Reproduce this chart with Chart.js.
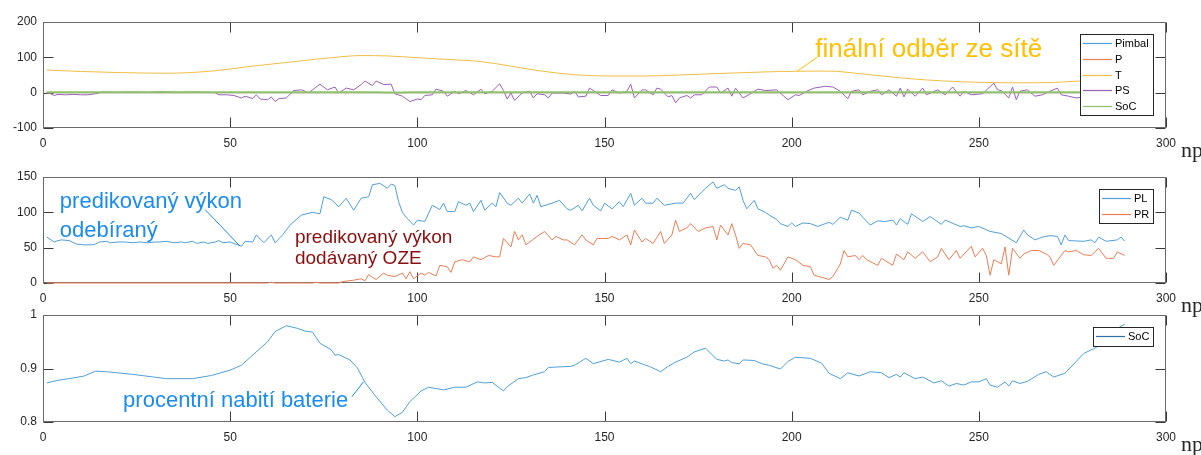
<!DOCTYPE html>
<html>
<head>
<meta charset="utf-8">
<script src="https://cdn.jsdelivr.net/npm/chart.js@4.4.1/dist/chart.umd.min.js"></script>
<style>
  body { margin: 0; background: #fff; width: 1201px; height: 455px; overflow: hidden; position: relative; }
  .panel { position: absolute; left: 0; width: 1201px; height: 170px; }
</style>
</head>
<body>
<div class="panel" style="top:0"><canvas id="grid"></canvas></div>
<div class="panel" style="top:155px"><canvas id="power"></canvas></div>
<div class="panel" style="top:293px"><canvas id="soc"></canvas></div>
<script>
// ---- axis ticks ----
const xTicks = [0, 50, 100, 150, 200, 250, 300];
const gridTicks = [-100, 0, 100, 200];
const powerTicks = [0, 50, 100, 150];
const socTicks = [0.8, 0.9, 1];

// ---- series, [step, value] ----
const pimbalData = [[1, 0], [289, 0]];
const pData = [[1, 0], [289, 0]];
const tData = [[1,64],[10,60],[20,57],[33,55],[46,62],[55,74],[62,82],[69,90],[77,99],[85,105],[92,104],[100,99],[108,94],[117,88],[125,75],[130,66],[137,56],[143,50],[152,47],[160,47],[170,50],[180,54],[188,57],[197,60],[205,61],[210,61],[218,54],[227,44],[236,36],[245,31],[258,28],[265,28],[272,30],[277,33],[283,35],[289,37]];
const psData = [[1,0],[2,-3],[3,-8],[4,-5],[6,-6],[8,-5],[10,-6],[12,-6],[14,-3],[16,2],[20,1],[24,2],[28,1],[32,3],[36,1],[40,2],[44,1],[46,0],[47,-6],[49,-6],[51,-8],[53,-15],[54,-10],[56,-17],[57,-6],[58,-18],[60,-20],[61,-12],[62,-25],[63,-17],[65,-15],[67,6],[69,8],[71,0],[74,24],[76,8],[78,16],[79,-1],[81,13],[83,8],[85,23],[86,33],[88,20],[89,33],[91,23],[93,24],[94,-3],[96,-10],[98,-25],[100,-18],[101,-20],[102,-8],[104,-6],[105,10],[107,4],[108,-10],[110,4],[111,-3],[113,6],[115,-6],[117,10],[118,-3],[120,4],[122,25],[123,6],[124,-18],[125,-1],[126,-22],[128,-1],[130,4],[131,-15],[132,-3],[134,-6],[135,-15],[136,-1],[139,-1],[141,-4],[142,4],[143,-12],[145,-10],[146,13],[149,-8],[151,-8],[152,8],[154,-1],[156,4],[157,24],[158,-15],[160,8],[161,8],[163,-6],[164,13],[165,10],[167,-12],[168,-8],[169,-29],[170,-15],[172,-8],[173,-15],[174,-6],[176,-6],[178,16],[180,16],[181,-1],[183,13],[184,-10],[185,13],[186,-1],[187,-15],[189,-3],[191,10],[193,6],[196,8],[199,-20],[201,-6],[202,-8],[204,4],[206,13],[209,18],[211,16],[213,4],[215,-17],[216,4],[218,8],[219,-6],[221,4],[223,8],[224,-6],[226,8],[228,-10],[229,13],[230,-12],[231,10],[233,-10],[235,13],[236,-6],[239,8],[241,-6],[243,16],[245,-10],[246,4],[248,-6],[251,-3],[254,27],[255,8],[256,6],[258,-15],[259,16],[260,-20],[261,4],[263,8],[265,-10],[267,-6],[269,4],[271,13],[272,-6],[274,-10],[276,-15],[278,-12],[280,-4],[282,3],[284,-8],[285,2],[287,-10],[289,-5]];
const plData = [[1,65],[3,58],[4,60],[5,61],[7,60],[9,55],[11,54],[13,54],[14,55],[15,58],[17,59],[18,57],[20,58],[22,58],[24,57],[26,58],[28,57],[30,58],[31,58],[33,59],[35,57],[37,58],[38,57],[40,59],[41,56],[43,58],[44,56],[46,58],[47,60],[48,57],[50,58],[51,56],[53,52],[54,59],[56,58],[57,68],[59,57],[61,68],[62,57],[64,68],[66,82],[69,96],[72,100],[74,98],[75,122],[77,118],[79,108],[81,120],[83,103],[85,120],[87,122],[88,139],[90,141],[92,134],[93,140],[94,138],[95,115],[96,100],[97,93],[99,82],[100,89],[102,87],[104,110],[106,104],[107,113],[108,101],[110,101],[111,115],[113,110],[114,113],[115,101],[117,117],[118,103],[120,113],[121,108],[122,128],[124,113],[125,110],[127,120],[128,113],[130,126],[131,113],[132,124],[133,108],[136,113],[138,117],[140,105],[141,103],[143,110],[144,102],[146,120],[147,110],[149,102],[150,113],[152,105],[154,115],[155,108],[157,127],[158,110],[160,120],[161,113],[163,113],[164,120],[166,110],[169,113],[171,113],[173,127],[174,118],[176,129],[177,134],[179,143],[180,134],[182,139],[183,134],[185,131],[186,136],[187,117],[188,105],[190,117],[191,105],[193,100],[194,96],[196,90],[197,84],[199,80],[200,85],[201,80],[203,85],[205,84],[207,80],[210,86],[211,83],[213,93],[215,89],[216,103],[218,99],[219,93],[221,82],[223,88],[225,87],[227,89],[228,82],[229,91],[231,83],[232,98],[235,87],[237,94],[240,83],[241,89],[245,80],[246,81],[248,78],[250,80],[253,73],[256,70],[260,57],[262,75],[263,68],[265,61],[267,65],[269,67],[271,66],[272,54],[273,68],[274,60],[278,59],[280,61],[281,57],[282,65],[284,59],[287,61],[288,65],[289,59]];
const prData = [[1,0],[60,0],[61,1],[62,0],[72,0],[73,1],[74,0],[79,0],[80,2],[83,4],[85,6],[86,3],[87,12],[88,8],[89,5],[91,14],[92,11],[94,9],[96,14],[97,6],[98,16],[99,6],[101,14],[102,11],[103,15],[105,10],[106,25],[108,23],[109,15],[110,30],[112,33],[114,30],[115,37],[117,33],[119,39],[121,37],[122,37],[123,63],[125,51],[126,73],[127,61],[128,68],[129,54],[132,66],[134,73],[136,61],[137,66],[139,61],[140,61],[142,54],[144,68],[145,61],[147,54],[148,63],[151,63],[152,66],[154,61],[156,68],[157,54],[158,75],[160,58],[161,63],[163,56],[165,73],[166,56],[168,68],[169,89],[170,73],[172,78],[173,84],[175,73],[177,78],[179,80],[180,61],[181,82],[183,68],[184,84],[185,68],[186,49],[187,56],[189,54],[191,39],[193,37],[194,33],[195,21],[196,25],[197,18],[199,37],[201,33],[203,25],[205,23],[206,11],[208,8],[210,5],[211,9],[213,27],[214,46],[215,37],[217,39],[218,33],[219,39],[220,33],[223,25],[224,35],[227,25],[228,41],[230,33],[231,44],[233,35],[235,44],[237,30],[239,37],[240,49],[242,33],[244,46],[245,35],[248,52],[249,37],[251,49],[252,39],[253,11],[254,33],[256,27],[257,51],[258,11],[259,49],[261,35],[262,41],[264,46],[266,46],[268,41],[269,37],[270,25],[273,46],[274,44],[276,46],[278,40],[280,39],[282,49],[284,35],[286,35],[287,44],[289,39]];
const socData = [[1,0.873],[4,0.878],[7,0.881],[11,0.886],[14,0.895],[17,0.894],[24,0.889],[33,0.881],[40,0.881],[45,0.887],[50,0.897],[53,0.906],[56,0.925],[60,0.950],[62,0.969],[65,0.980],[68,0.975],[70,0.970],[72,0.968],[74,0.947],[77,0.935],[78,0.925],[79,0.926],[82,0.916],[84,0.901],[86,0.874],[89,0.847],[92,0.822],[94,0.810],[96,0.818],[98,0.838],[101,0.858],[103,0.865],[107,0.860],[110,0.865],[113,0.865],[116,0.875],[118,0.873],[120,0.874],[123,0.858],[124,0.866],[127,0.881],[129,0.883],[131,0.888],[134,0.894],[135,0.902],[141,0.904],[142,0.906],[145,0.919],[147,0.909],[151,0.917],[154,0.912],[156,0.919],[157,0.909],[158,0.914],[161,0.906],[162,0.904],[165,0.894],[167,0.904],[169,0.912],[172,0.921],[174,0.931],[177,0.938],[180,0.917],[182,0.914],[183,0.916],[184,0.911],[186,0.909],[187,0.916],[190,0.915],[192,0.909],[194,0.906],[197,0.899],[199,0.913],[201,0.921],[205,0.919],[208,0.910],[210,0.891],[213,0.881],[215,0.892],[218,0.886],[221,0.894],[224,0.892],[226,0.883],[228,0.889],[229,0.884],[230,0.892],[233,0.881],[235,0.884],[238,0.873],[240,0.877],[242,0.867],[244,0.872],[246,0.869],[248,0.875],[250,0.875],[252,0.881],[253,0.869],[255,0.865],[257,0.875],[258,0.867],[259,0.877],[261,0.872],[263,0.876],[266,0.889],[268,0.894],[270,0.884],[273,0.891],[276,0.913],[278,0.928],[281,0.938],[283,0.947],[285,0.960],[287,0.975],[289,0.983]];

const SANS = '"Liberation Sans", Arial, Helvetica, sans-serif';
const SERIF = '"Liberation Serif", "Times New Roman", serif';
const AXIS = '#262626';
const TICK_LEN = 10;

Chart.defaults.font.family = SANS;
Chart.defaults.font.size = 12;
Chart.defaults.color = AXIS;

const pts = arr => arr.map(([x, y]) => ({ x, y }));

function line(label, data, color, extra) {
  return Object.assign({
    label, data: pts(data), borderColor: color, borderWidth: 1,
    pointRadius: 0, tension: 0, fill: false, clip: 2
  }, extra || {});
}

// box + inward tick marks on all four sides, drawn under the data
const matlabFrame = {
  id: 'matlabFrame',
  beforeDatasetsDraw(chart, args, opts) {
    const ctx = chart.ctx;
    const a = chart.chartArea;
    const sx = chart.scales.x, sy = chart.scales.y;
    const left = Math.round(a.left) + 0.5, right = Math.round(a.right) - 0.5;
    const top = Math.round(a.top) + 0.5, bottom = Math.round(a.bottom) - 0.5;
    ctx.save();
    ctx.lineWidth = 1;
    ctx.strokeStyle = '#3a3a3a';
    ctx.beginPath();
    for (const v of opts.xValues) {
      const px = Math.round(sx.getPixelForValue(v)) + 0.5;
      ctx.moveTo(px, bottom); ctx.lineTo(px, bottom - TICK_LEN);
      ctx.moveTo(px, top); ctx.lineTo(px, top + TICK_LEN);
    }
    for (const v of opts.yValues) {
      const py = Math.round(sy.getPixelForValue(v)) + 0.5;
      ctx.moveTo(left, py); ctx.lineTo(left + TICK_LEN, py);
      ctx.moveTo(right, py); ctx.lineTo(right - TICK_LEN, py);
    }
    ctx.stroke();
    ctx.strokeStyle = '#6a6a6a';
    ctx.strokeRect(left, top, right - left, bottom - top);
    ctx.restore();
  }
};

// legend box in the upper right corner of the axes
const boxLegend = {
  id: 'boxLegend',
  afterDatasetsDraw(chart) {
    const { ctx, chartArea: a } = chart;
    const items = chart.data.datasets.filter(d => d.label);
    const rowH = 15.6, sample = 29;
    ctx.save();
    ctx.font = '11px ' + SANS;
    const textW = Math.max(...items.map(d => ctx.measureText(d.label).width));
    const w = Math.round(3 + sample + 3 + textW + 4);
    const h = Math.round(items.length * rowH + 3);
    const right = Math.round(a.right) - 13;
    const top = Math.round(a.top) + 12;
    const left = right - w;
    ctx.fillStyle = '#fff';
    ctx.fillRect(left, top, w, h);
    ctx.strokeStyle = '#262626';
    ctx.lineWidth = 1;
    ctx.strokeRect(left + 0.5, top + 0.5, w, h);
    items.forEach((d, i) => {
      const cy = Math.round(top + 1.5 + rowH * (i + 0.5)) + 0.5;
      ctx.strokeStyle = d.legendColor || d.borderColor;
      ctx.lineWidth = 1.2;
      ctx.beginPath();
      ctx.moveTo(left + 3, cy);
      ctx.lineTo(left + 3 + sample, cy);
      ctx.stroke();
      ctx.fillStyle = '#000';
      ctx.textBaseline = 'middle';
      ctx.fillText(d.label, left + 6 + sample, cy);
    });
    ctx.restore();
  }
};

// text callouts placed in data units, plus the "np" axis label
const callouts = {
  id: 'callouts',
  afterDraw(chart, args, opts) {
    const { ctx, chartArea: a, scales: { x, y } } = chart;
    ctx.save();
    (opts.notes || []).forEach(n => {
      ctx.font = n.size + 'px ' + SANS;
      ctx.fillStyle = n.color;
      ctx.textBaseline = 'alphabetic';
      const tx = x.getPixelForValue(n.at[0]);
      const ty = y.getPixelForValue(n.at[1]);
      n.lines.forEach((s, i) => ctx.fillText(s, tx, ty + i * n.gap));
      if (n.leader) {
        ctx.strokeStyle = n.color;
        ctx.lineWidth = 1;
        ctx.beginPath();
        ctx.moveTo(x.getPixelForValue(n.leader[0][0]), y.getPixelForValue(n.leader[0][1]));
        ctx.lineTo(x.getPixelForValue(n.leader[1][0]), y.getPixelForValue(n.leader[1][1]));
        ctx.stroke();
      }
    });
    ctx.font = '22px ' + SERIF;
    ctx.fillStyle = AXIS;
    ctx.textBaseline = 'alphabetic';
    ctx.fillText('np', a.right + 15, a.bottom + 29);
    ctx.restore();
  }
};

function axes(yTicks, xHeight) {
  return {
    x: {
      type: 'linear', min: 0, max: 300,
      afterBuildTicks: s => { s.ticks = xTicks.map(v => ({ value: v })); },
      afterFit: s => { s.height = xHeight; },
      ticks: { padding: 8, maxRotation: 0, callback: v => String(v) },
      grid: { display: false, drawTicks: false },
      border: { display: false }
    },
    y: {
      type: 'linear', min: yTicks[0], max: yTicks[yTicks.length - 1],
      afterBuildTicks: s => { s.ticks = yTicks.map(v => ({ value: v })); },
      afterFit: s => { s.width = 43; },
      ticks: { padding: 6, callback: v => String(v) },
      grid: { display: false, drawTicks: false },
      border: { display: false }
    }
  };
}

function makeChart(id, datasets, yTicks, xHeight, notes) {
  return new Chart(document.getElementById(id), {
    type: 'line',
    data: { datasets },
    options: {
      animation: false,
      responsive: true,
      maintainAspectRatio: false,
      layout: { padding: { top: 22, right: 35, left: 0, bottom: 0 } },
      plugins: {
        legend: { display: false },
        tooltip: { enabled: false },
        matlabFrame: { xValues: xTicks, yValues: yTicks },
        callouts: { notes }
      },
      scales: axes(yTicks, xHeight)
    },
    plugins: [matlabFrame, boxLegend, callouts]
  });
}

// grid exchange: imbalance, load, grid draw, storage power, state of charge
makeChart('grid', [
  line('Pimbal', pimbalData, '#4f9fd9', { order: 5 }),
  line('P', pData, '#eb7d55', { order: 4 }),
  line('T', tData, '#f0bd45', { order: 3, cubicInterpolationMode: 'monotone' }),
  line('PS', psData, '#9b5fb5', { order: 2 }),
  line('SoC', socData, '#8fc26a', { order: 1, borderWidth: 2 })
], gridTicks, 42, [
  { lines: ['finální odběr ze sítě'], at: [206.3, 102], size: 26, gap: 0, color: '#ffc000',
    leader: [[206.8, 100], [201.5, 61]] }
]);

// predicted load and renewable supply
makeChart('power', [
  line('PL', plData, '#4f9fd9', { order: 2 }),
  line('PR', prData, '#eb7d55', { order: 1 })
], powerTicks, 42, [
  { lines: ['predikovaný výkon', 'odebíraný'], at: [4.5, 105.7], size: 22, gap: 28.5, color: '#1a8cf0',
    leader: [[43.3, 104], [52.6, 52.4]] },
  { lines: ['predikovaný výkon', 'dodávaný OZE'], at: [67.3, 56.6], size: 19, gap: 21, color: '#8b0e0e' }
]);

// battery state of charge
makeChart('soc', [
  line('SoC', socData, '#4f9fd9', { legendColor: '#2f6fae' })
], socTicks, 41, [
  { lines: ['procentní nabití baterie'], at: [21.4, 0.8275], size: 22, gap: 0, color: '#1a8cf0',
    leader: [[82.5, 0.847], [85.6, 0.875]] }
]);
</script>
</body>
</html>
